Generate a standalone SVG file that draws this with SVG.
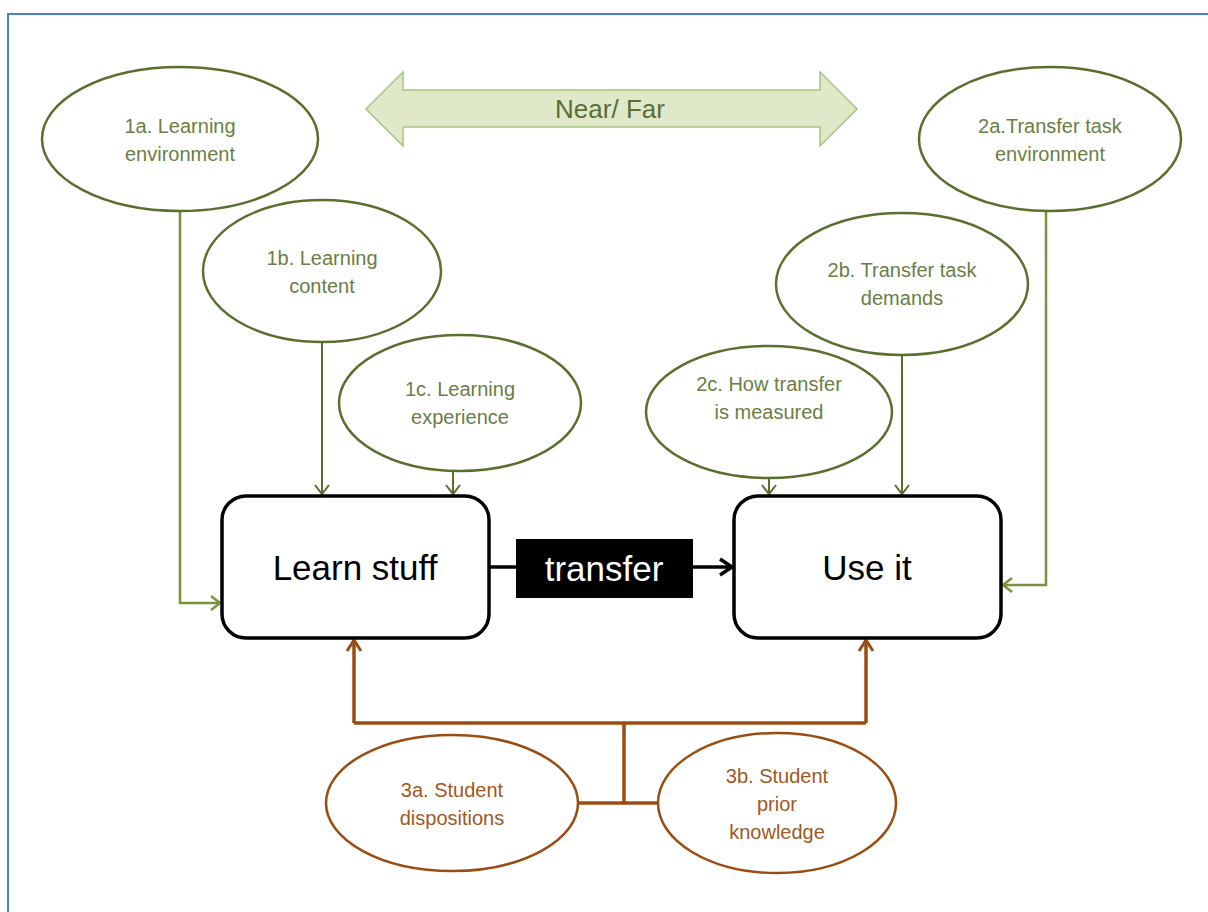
<svg xmlns="http://www.w3.org/2000/svg" width="1208" height="912" viewBox="0 0 1208 912">
<style>
.frame{fill:#fff;stroke:#4f81bd;stroke-width:2}
.gE{fill:#fff;stroke:#5a6f2e;stroke-width:2.5}
.bE{fill:#fff;stroke:#9a4d12;stroke-width:2.5}
.gT{font-family:"Liberation Sans",Arial,sans-serif;font-size:20px;fill:#6a7e44;text-anchor:middle}
.bT{font-family:"Liberation Sans",Arial,sans-serif;font-size:20px;fill:#a0581f;text-anchor:middle}
.box{fill:#fff;stroke:#000;stroke-width:3.5}
.bigT{font-family:"Liberation Sans",Arial,sans-serif;font-size:35px;fill:#000;text-anchor:middle}
.gL{fill:none;stroke:#77933c;stroke-width:2.5}
.gL2{fill:none;stroke:#5a6f2e;stroke-width:2}
.bL{fill:none;stroke:#9a4d12;stroke-width:3.5}
.kL{fill:none;stroke:#000;stroke-width:3.5}
</style>
<defs>
<marker id="ag" markerUnits="userSpaceOnUse" markerWidth="14" markerHeight="16" refX="11" refY="8" orient="auto" viewBox="0 0 14 16">
<path d="M2,1 L11,8 L2,15" fill="none" stroke="#77933c" stroke-width="2.5"/>
</marker>
<marker id="ag2" markerUnits="userSpaceOnUse" markerWidth="14" markerHeight="16" refX="11" refY="8" orient="auto" viewBox="0 0 14 16">
<path d="M2,1 L11,8 L2,15" fill="none" stroke="#5a6f2e" stroke-width="2"/>
</marker>
<marker id="ab" markerUnits="userSpaceOnUse" markerWidth="16" markerHeight="18" refX="13" refY="9" orient="auto" viewBox="0 0 16 18">
<path d="M2,2 L13,9 L2,16" fill="none" stroke="#9a4d12" stroke-width="3"/>
</marker>
<marker id="ak" markerUnits="userSpaceOnUse" markerWidth="18" markerHeight="20" refX="14" refY="10" orient="auto" viewBox="0 0 18 20">
<path d="M2,2 L14,10 L2,18" fill="none" stroke="#000" stroke-width="3.5"/>
</marker>
</defs>
<rect x="0" y="0" width="1208" height="912" fill="#fff"/>
<path class="frame" d="M8,914 L8,14 L1210,14"/>

<g id="nearfar">
<path d="M366,109 L403,72 L403,90 L820,90 L820,72 L857,109 L820,146 L820,127 L403,127 L403,146 Z" fill="#dfe8c9" stroke="#a9c283" stroke-width="1.5"/>
<text x="610" y="118" font-family="Liberation Sans,Arial,sans-serif" font-size="26" fill="#5a6e35" text-anchor="middle">Near/ Far</text>
</g>

<g id="connectors">
<path class="gL" d="M180,211 L180,603 L220,603" marker-end="url(#ag)"/>
<path class="gL2" d="M322,343 L322,494" marker-end="url(#ag2)"/>
<path class="gL2" d="M453,471 L453,494" marker-end="url(#ag2)"/>
<path class="gL2" d="M769,478 L769,494" marker-end="url(#ag2)"/>
<path class="gL2" d="M902,355 L902,494" marker-end="url(#ag2)"/>
<path class="gL" d="M1046,211 L1046,585 L1003,585" marker-end="url(#ag)"/>
<path class="kL" d="M489,567 L518,567"/>
<path class="kL" d="M692,567 L732,567" marker-end="url(#ak)"/>
<path class="bL" d="M354,723 L354,640" marker-end="url(#ab)"/>
<path class="bL" d="M866,723 L866,640" marker-end="url(#ab)"/>
<path class="bL" d="M354,723 L866,723 M624,723 L624,803 M578,803 L658,803"/>
</g>

<g id="n1a"><ellipse class="gE" cx="180" cy="139" rx="138" ry="72"/>
<text class="gT" x="180" y="133">1a. Learning</text><text class="gT" x="180" y="161">environment</text></g>
<g id="n1b"><ellipse class="gE" cx="322" cy="271" rx="119" ry="71"/>
<text class="gT" x="322" y="265">1b. Learning</text><text class="gT" x="322" y="293">content</text></g>
<g id="n1c"><ellipse class="gE" cx="460" cy="403" rx="121" ry="68"/>
<text class="gT" x="460" y="396">1c. Learning</text><text class="gT" x="460" y="424">experience</text></g>
<g id="n2a"><ellipse class="gE" cx="1050" cy="139" rx="131" ry="72"/>
<text class="gT" x="1050" y="133">2a.Transfer task</text><text class="gT" x="1050" y="161">environment</text></g>
<g id="n2b"><ellipse class="gE" cx="902" cy="284" rx="126" ry="71"/>
<text class="gT" x="902" y="277">2b. Transfer task</text><text class="gT" x="902" y="305">demands</text></g>
<g id="n2c"><ellipse class="gE" cx="769" cy="412" rx="123" ry="66"/>
<text class="gT" x="769" y="391">2c. How transfer</text><text class="gT" x="769" y="419">is measured</text></g>

<g id="learn"><rect class="box" x="222" y="496" width="267" height="142" rx="24"/>
<text class="bigT" x="355" y="580">Learn stuff</text></g>
<g id="transfer"><rect x="516" y="539" width="177" height="59" fill="#000"/>
<text x="604" y="581" font-family="Liberation Sans,Arial,sans-serif" font-size="35" fill="#fff" text-anchor="middle">transfer</text></g>
<g id="use"><rect class="box" x="734" y="496" width="267" height="142" rx="24"/>
<text class="bigT" x="867" y="580">Use it</text></g>

<g id="n3a"><ellipse class="bE" cx="452" cy="803" rx="126" ry="68"/>
<text class="bT" x="452" y="797">3a. Student</text><text class="bT" x="452" y="825">dispositions</text></g>
<g id="n3b"><ellipse class="bE" cx="777" cy="803" rx="119" ry="70"/>
<text class="bT" x="777" y="783">3b. Student</text><text class="bT" x="777" y="811">prior</text><text class="bT" x="777" y="839">knowledge</text></g>
</svg>
